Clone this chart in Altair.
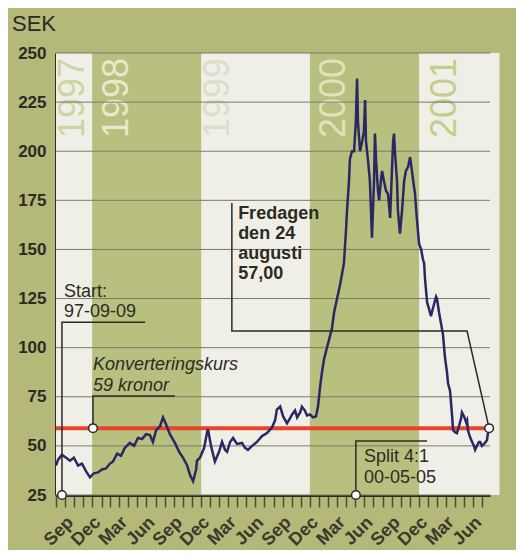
import altair as alt
import pandas as pd

# ---------------- data ----------------
price_dates = [
    "1997-09-01", "1997-09-08", "1997-09-21", "1997-10-05", "1997-10-18", "1997-10-31",
    "1997-11-14", "1997-11-27", "1997-12-11", "1997-12-24", "1998-01-06", "1998-01-20",
    "1998-02-02", "1998-02-16", "1998-03-01", "1998-03-11", "1998-03-25", "1998-04-07",
    "1998-04-20", "1998-05-07", "1998-05-21", "1998-06-03", "1998-06-17", "1998-06-30",
    "1998-07-13", "1998-07-23", "1998-08-03", "1998-08-16", "1998-08-26", "1998-09-05",
    "1998-09-18", "1998-10-05", "1998-10-19", "1998-11-01", "1998-11-15", "1998-11-25",
    "1998-12-05", "1998-12-15", "1998-12-18", "1998-12-28", "1999-01-11", "1999-01-21",
    "1999-01-24", "1999-02-03", "1999-02-16", "1999-03-02", "1999-03-12", "1999-03-22",
    "1999-03-29", "1999-04-08", "1999-04-18", "1999-05-01", "1999-05-18", "1999-05-28",
    "1999-06-07", "1999-06-21", "1999-07-07", "1999-07-24", "1999-08-10", "1999-08-27",
    "1999-09-06", "1999-09-12", "1999-09-23", "1999-10-03", "1999-10-16", "1999-10-26",
    "1999-11-02", "1999-11-12", "1999-11-19", "1999-11-29", "1999-12-05", "1999-12-15",
    "1999-12-22", "2000-01-01", "2000-01-11", "2000-01-21", "2000-01-28", "2000-02-04",
    "2000-02-10", "2000-02-17", "2000-02-27", "2000-03-05", "2000-03-15", "2000-03-22",
    "2000-04-01", "2000-04-11", "2000-04-24", "2000-05-01", "2000-05-04", "2000-05-11",
    "2000-05-14", "2000-05-21", "2000-05-28", "2000-06-03", "2000-06-07", "2000-06-10",
    "2000-06-17", "2000-06-24", "2000-06-30", "2000-07-04", "2000-07-07", "2000-07-14",
    "2000-07-20", "2000-07-27", "2000-08-03", "2000-08-06", "2000-08-10", "2000-08-16",
    "2000-08-20", "2000-08-26", "2000-08-30", "2000-09-05", "2000-09-12", "2000-09-19",
    "2000-09-26", "2000-10-02", "2000-10-06", "2000-10-09", "2000-10-12", "2000-10-19",
    "2000-10-22", "2000-10-29", "2000-11-05", "2000-11-12", "2000-11-18", "2000-11-25",
    "2000-12-02", "2000-12-08", "2000-12-15", "2000-12-18", "2000-12-25", "2001-01-01",
    "2001-01-08", "2001-01-14", "2001-01-18", "2001-01-21", "2001-01-28", "2001-02-03",
    "2001-02-10", "2001-02-13", "2001-02-20", "2001-02-27", "2001-03-02", "2001-03-09",
    "2001-03-16", "2001-03-22", "2001-03-29", "2001-04-05", "2001-04-08", "2001-04-15",
    "2001-04-22", "2001-04-25", "2001-05-02", "2001-05-08", "2001-05-15", "2001-05-22",
    "2001-05-25", "2001-06-01", "2001-06-08", "2001-06-11", "2001-06-14", "2001-06-21",
    "2001-06-28", "2001-07-04", "2001-07-08", "2001-07-14", "2001-07-21", "2001-07-25",
    "2001-07-31", "2001-08-07", "2001-08-10", "2001-08-17", "2001-08-20", "2001-08-24",
]
price_values = [
    40, 43, 45.5, 44, 42.5, 44,
    40, 41, 37, 34, 36, 36.5,
    38, 38.5, 41, 42, 46, 45,
    49, 51.5, 50, 54, 53.5, 56,
    55.5, 52, 58, 60, 64.5, 61,
    56, 51.5, 47, 44, 40, 35,
    32, 38, 42.5, 44, 49, 57,
    58.5, 50, 42, 47, 52, 48,
    47, 52, 54, 51, 51.5, 49,
    48, 50, 52, 55, 56.5, 59.5,
    63, 68.5, 70, 65, 61.5, 64,
    66, 68, 64.5, 67, 70, 68,
    65.5, 66, 64.5, 65, 70, 80,
    87, 94, 100, 104, 110, 118,
    125, 132, 143, 160, 169, 185,
    196, 200, 200, 215, 237, 215,
    200, 205, 210, 226, 205, 195,
    185, 156, 185, 209, 195, 180,
    175, 185, 190, 185, 180, 178,
    166, 190, 205, 209, 200, 185,
    170, 158, 170, 185, 190, 192,
    197, 190, 182, 179, 165, 153,
    150, 145, 143, 135, 123, 120,
    116, 118, 122, 126, 125, 118,
    112, 107, 95, 87, 82, 78,
    65, 58, 57, 56.5, 60, 64,
    67, 65, 62, 63, 58, 54.5,
    52, 50, 48, 50, 52, 52,
    50, 51, 51.5, 53, 56.5, 57,
]

conversion_price = 59
y_ticks = [25, 50, 75, 100, 125, 150, 175, 200, 225, 250]
x_start = "1997-09-01"
x_end = "2001-08-27"

band_starts = ["1997-09-01", "1998-01-01", "1999-01-01", "2000-01-01", "2001-01-01"]
band_ends = ["1998-01-01", "1999-01-01", "2000-01-01", "2001-01-01", "2001-09-28"]
band_colors = ["#efefe8", "#b9c07f", "#efefe8", "#b9c07f", "#efefe8"]

year_labels = ["1997", "1998", "1999", "2000", "2001"]
year_label_dates = ["1997-10-28", "1998-03-25", "1999-02-27", "2000-03-22", "2001-03-29"]
year_label_colors = ["#cdd5a2", "#e6e9cc", "#dcdfc8", "#dfe3bd", "#c6cd8a"]
year_label_top = 247.5

# annotation leader lines (group, date, value)
leader_groups = ["start", "start", "start",
                 "konv", "konv", "konv",
                 "fred", "fred", "fred", "fred",
                 "split", "split", "split"]
leader_dates = ["1997-09-21", "1997-09-21", "1998-06-27",
                "1998-01-03", "1998-01-03", "1998-10-05",
                "1999-04-14", "1999-04-14", "2001-06-11", "2001-08-24",
                "2000-06-03", "2000-06-03", "2001-01-28"]
leader_values = [25, 113, 113,
                 59, 75.4, 75.4,
                 173.6, 108.5, 108.5, 59,
                 25, 52.5, 52.5]

circle_dates = ["1997-09-21", "1998-01-03", "2001-08-24", "2000-06-03"]
circle_values = [25, 59, 59, 25]

note_texts = ["Start:", "97-09-09", "Split 4:1", "00-05-05"]
note_dates = ["1997-09-28", "1997-09-28", "2000-06-30", "2000-06-30"]
note_values = [125.8, 115.6, 41.8, 31.1]

konv_texts = ["Konverteringskurs", "59 kronor"]
konv_dates = ["1998-01-03", "1998-01-03"]
konv_values = [88.6, 77.9]

fred_texts = ["Fredagen", "den 24", "augusti", "57,00"]
fred_dates = ["1999-05-05", "1999-05-05", "1999-05-05", "1999-05-05"]
fred_values = [165.5, 155.3, 145.1, 134.9]

# ---------------- styling ----------------
FONT = "Liberation Sans"
INK = "#2b2b22"
W, H = 434, 442

price_df = pd.DataFrame({"date": price_dates, "value": price_values})
band_df = pd.DataFrame({"start": band_starts, "end": band_ends, "color": band_colors})
year_df = pd.DataFrame({"date": year_label_dates, "label": year_labels,
                        "color": year_label_colors, "value": year_label_top})
grid_df = pd.DataFrame({"value": y_ticks, "start": x_start, "end": x_end})
leader_df = pd.DataFrame({"group": leader_groups, "date": leader_dates,
                          "value": leader_values, "order": list(range(len(leader_dates)))})
circle_df = pd.DataFrame({"date": circle_dates, "value": circle_values})
note_df = pd.DataFrame({"date": note_dates, "value": note_values, "text": note_texts})
konv_df = pd.DataFrame({"date": konv_dates, "value": konv_values, "text": konv_texts})
fred_df = pd.DataFrame({"date": fred_dates, "value": fred_values, "text": fred_texts})
red_df = pd.DataFrame({"value": [conversion_price], "start": [x_start], "end": [x_end]})

xs = alt.Scale(domain=[alt.DateTime(year=1997, month=9, date=1),
                       alt.DateTime(year=2001, month=8, date=27)], nice=False)
ys = alt.Scale(domain=[25, 250], nice=False, zero=False)

xa = alt.Axis(
    tickCount={"interval": "month", "step": 1},
    labelExpr="month(datum.value) % 3 == 2 ? timeFormat(datum.value, '%b') : ''",
    labelAngle=315, labelAlign="right", labelBaseline="top",
    labelOffset=8, labelPadding=6, labelOverlap=False, labelBound=False,
    labelFont=FONT, labelFontSize=18, labelFontWeight="bold", labelColor="#3a3a2a",
    tickSize=12, tickWidth=1.5, tickColor="#4d4d38",
    domainColor=INK, domainWidth=3, grid=False, title=None)
ya = alt.Axis(
    values=y_ticks, labelFont=FONT, labelFontSize=17, labelFontWeight="bold",
    labelColor=INK, labelPadding=10, ticks=False,
    domainColor=INK, domainWidth=3, grid=False, title=None)

X = lambda f: alt.X(f, type="temporal", scale=xs, axis=xa, title=None)
Y = lambda f: alt.Y(f, type="quantitative", scale=ys, axis=ya, title=None)

bands = alt.Chart(band_df).mark_rect().encode(
    x=X("start"), x2="end",
    y=alt.Y(datum=250, scale=ys, axis=ya, title=None), y2=alt.Y2(datum=25),
    color=alt.Color("color:N", scale=None),
)

years = alt.Chart(year_df).mark_text(
    angle=270, align="right", baseline="middle", font=FONT, fontSize=36
).encode(x=X("date"), y=Y("value"), text="label:N", color=alt.Color("color:N", scale=None))

grid = alt.Chart(grid_df).mark_rule(color="#7a7a68", strokeWidth=1).encode(
    x=X("start"), x2="end", y=Y("value"))

red = alt.Chart(red_df).mark_rule(color="#e8432b", strokeWidth=4).encode(
    x=X("start"), x2="end", y=Y("value"))

line = alt.Chart(price_df).mark_line(color="#2a2862", strokeWidth=2.5).encode(
    x=X("date"), y=Y("value"))

leaders = alt.Chart(leader_df).mark_line(color=INK, strokeWidth=1.5).encode(
    x=X("date"), y=Y("value"), detail="group:N", order="order:Q")

circles = alt.Chart(circle_df).mark_point(
    filled=True, fill="white", stroke=INK, strokeWidth=1.5, size=75, opacity=1
).encode(x=X("date"), y=Y("value"))

notes = alt.Chart(note_df).mark_text(
    align="left", baseline="alphabetic", font=FONT, fontSize=18, color=INK
).encode(x=X("date"), y=Y("value"), text="text:N")

konv = alt.Chart(konv_df).mark_text(
    align="left", baseline="alphabetic", font=FONT, fontSize=18, fontStyle="italic", color=INK
).encode(x=X("date"), y=Y("value"), text="text:N")

fred = alt.Chart(fred_df).mark_text(
    align="left", baseline="alphabetic", font=FONT, fontSize=18, fontWeight="bold", color=INK
).encode(x=X("date"), y=Y("value"), text="text:N")

sek = alt.Chart(pd.DataFrame({"t": ["SEK"]})).mark_text(
    align="left", baseline="alphabetic", font=FONT, fontSize=22, color=INK
).encode(x=alt.value(-44), y=alt.value(-22), text="t:N")

chart = alt.layer(
    bands, years, grid, red, line, leaders, circles, notes, konv, fred, sek
).properties(
    width=W, height=H,
    autosize=alt.AutoSizeParams(type="none"),
    padding={"left": 48, "top": 45, "right": 26, "bottom": 55},
    background="#b4b97a",
).configure_view(stroke=None)

chart.save("out.html", embed_options={"renderer": "svg", "actions": False})
